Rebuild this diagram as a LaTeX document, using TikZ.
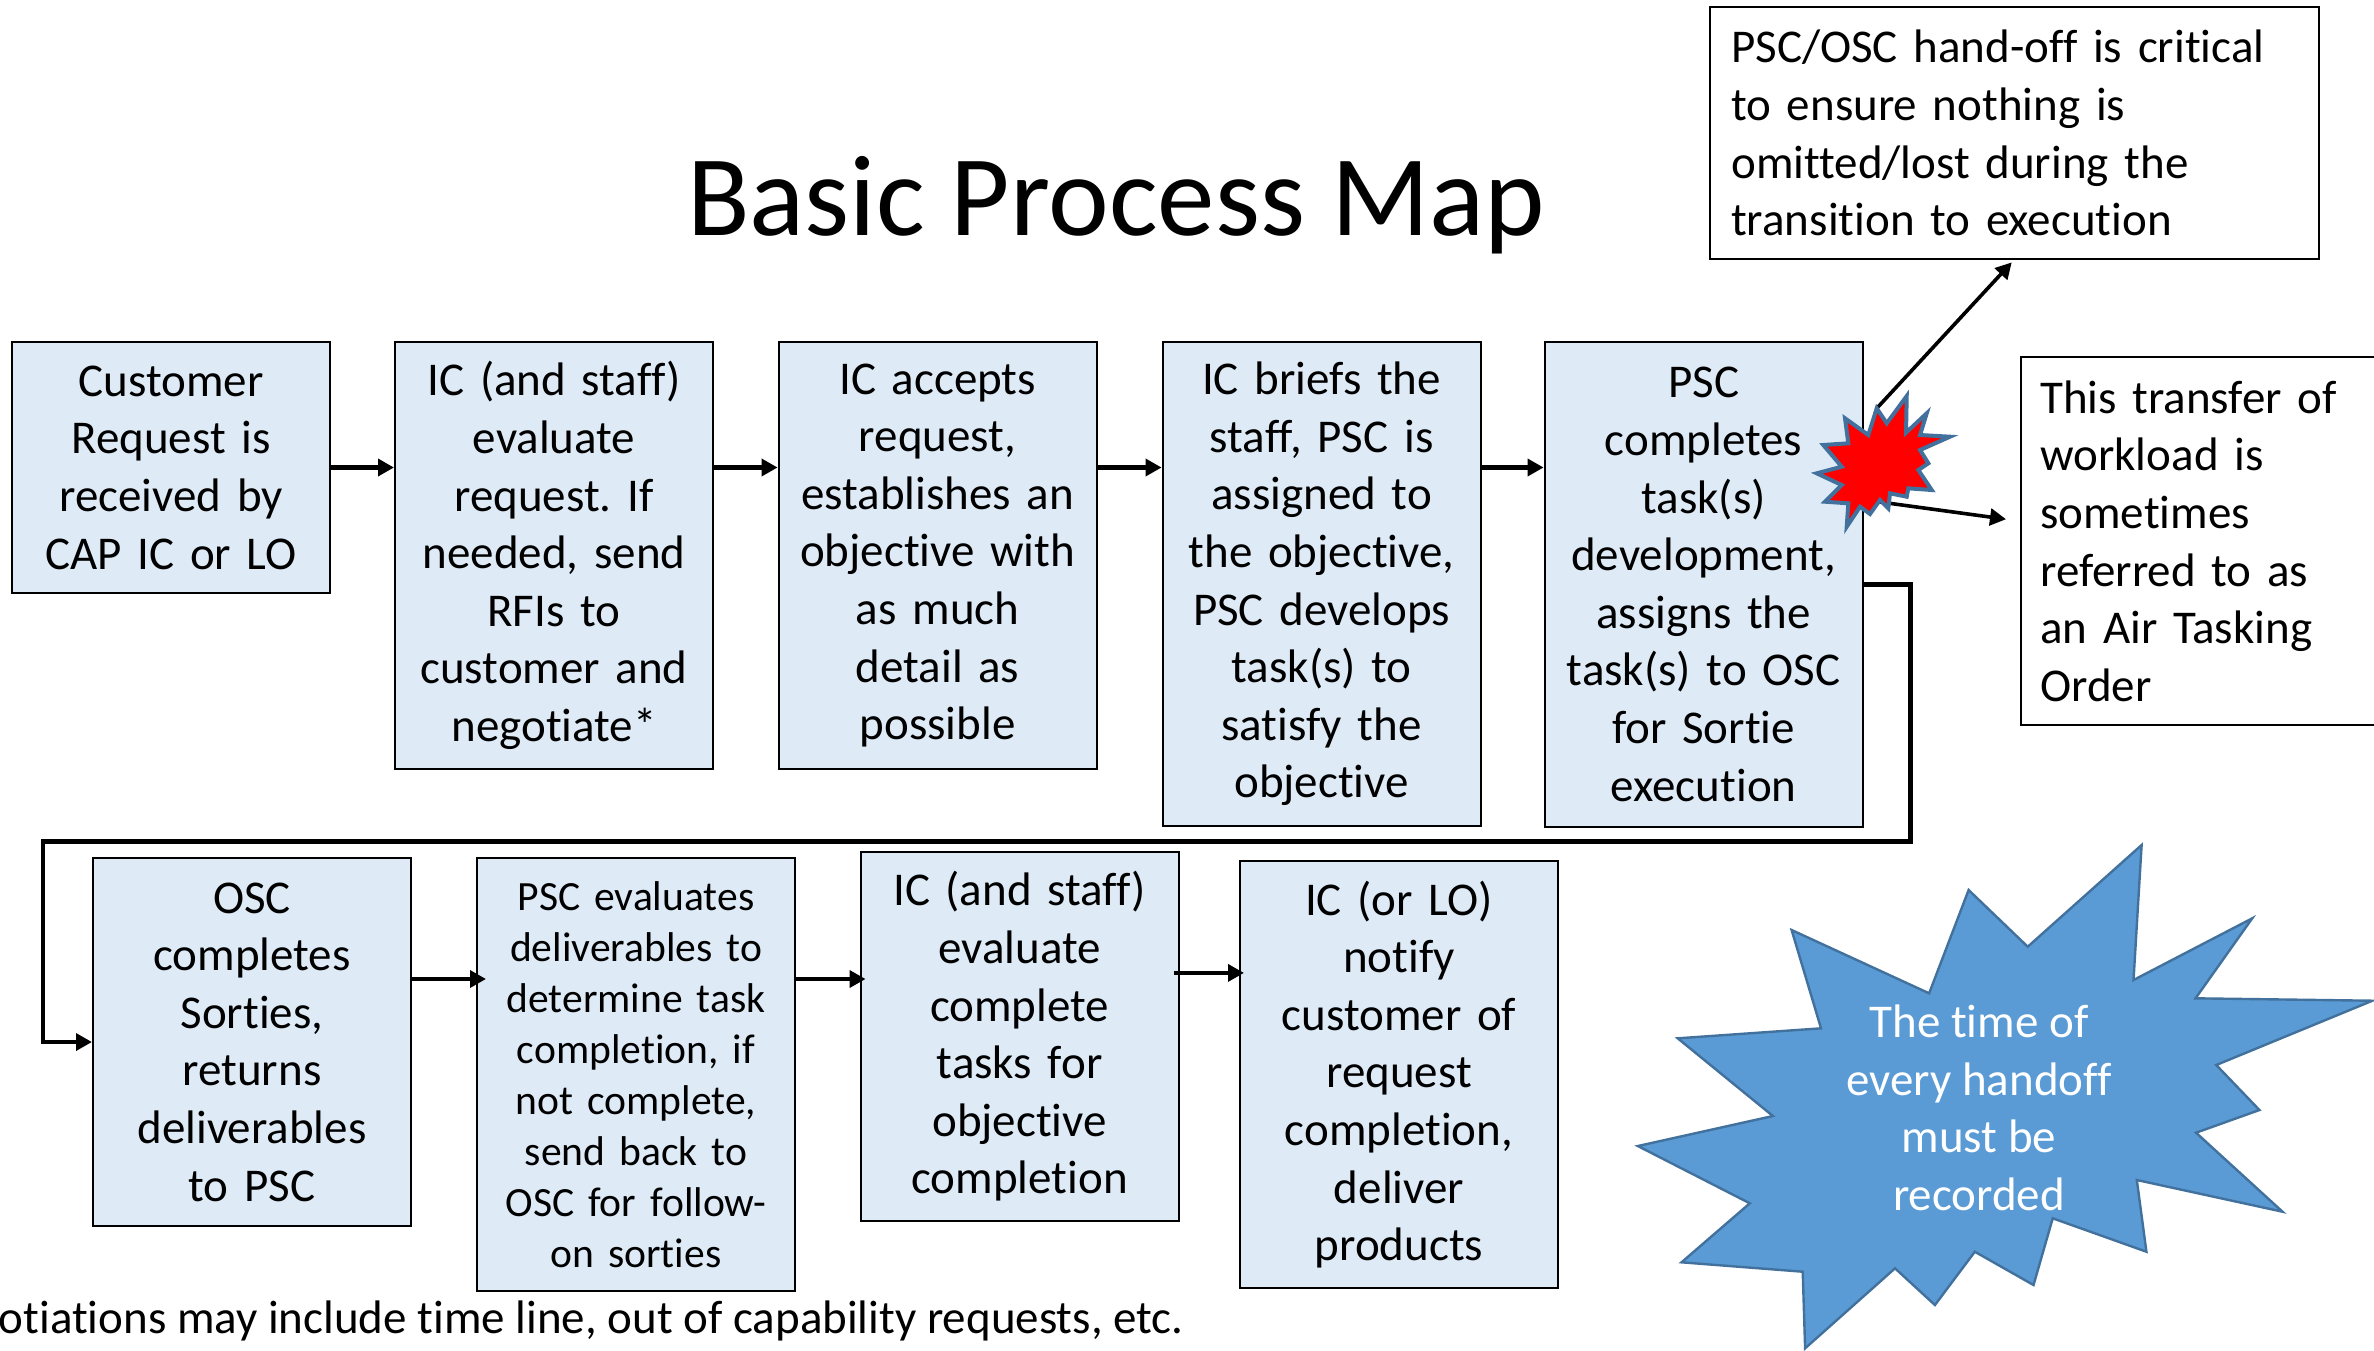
\documentclass[tikz,border=0pt]{standalone}
\usepackage{fontspec}
\setmainfont{Carlito}[Ligatures=CommonOff]
\usetikzlibrary{arrows.meta,positioning}
\definecolor{boxblue}{RGB}{222,235,247}
\definecolor{burstblue}{RGB}{91,155,213}
\definecolor{burstline}{RGB}{65,113,156}
\frenchspacing

\begin{document}
\begin{tikzpicture}[x=0.25pt,y=-0.25pt]
				\tikzset{block/.style={draw,fill=boxblue,line width=0.5pt,align=center,text width=75pt,inner xsep=0pt,minimum width=79.5pt,font=\fontsize{11.75}{14.4}\selectfont},
					note/.style={draw,line width=0.6pt,align=left,inner ysep=0pt,font=\fontsize{11.75}{14.4}\selectfont},
					flow/.style={draw,line width=1.1pt,-{Triangle[length=4pt,width=4.2pt]}}}
				\useasboundingbox (0,0) rectangle (2374,1350);
				\node [anchor=base,font=\fontsize{28.75}{34}\selectfont] (title) at (1116,235) {Basic Process Map};
				% first row
				\node [block, anchor=north west, minimum height=62.75pt] (request) at (11,341) {Customer\\Request is\\received by\\CAP IC or LO};
				\node [block, right=15.75pt of request.north east, anchor=north west, minimum height=106.75pt] (evaluate) {IC (and staff)\\evaluate\\request. If\\needed, send\\RFIs to\\customer and\\negotiate*};
				\node [block, right=15.9pt of evaluate.north east, anchor=north west, minimum height=106.75pt] (accept) {IC accepts\\request,\\establishes an\\objective with\\as much\\detail as\\possible};
				\node [block, right=16pt of accept.north east, anchor=north west, minimum height=121pt] (brief) {IC briefs the\\staff, PSC is\\assigned to\\the objective,\\PSC develops\\task(s) to\\satisfy the\\objective};
				\node [block, right=15.5pt of brief.north east, anchor=north west, minimum height=121.25pt] (tasks) {PSC\\completes\\task(s)\\development,\\assigns the\\task(s) to OSC\\for Sortie\\execution};
				% second row
				\node [block, anchor=north west, minimum height=92pt] (sorties) at (92,857) {OSC\\completes\\Sorties,\\returns\\deliverables\\to PSC};
				\node [block, right=16pt of sorties.north east, anchor=north west, minimum height=108.25pt, font=\fontsize{10.4}{12.75}\selectfont] (check) {PSC evaluates\\deliverables to\\determine task\\completion, if\\not complete,\\send back to\\OSC for follow-\\on sorties};
				\node [block, right=15.9pt of check.north east, anchor=north west, yshift=1.5pt, minimum height=92.25pt] (review) {IC (and staff)\\evaluate\\complete\\tasks for\\objective\\completion};
				\node [block, right=14.85pt of review.north east, anchor=north west, yshift=-2.25pt, minimum height=106.75pt] (deliver) {IC (or LO)\\notify\\customer of\\request\\completion,\\deliver\\products};
				% side notes
				\node [note, anchor=north west, text width=141.75pt, inner xsep=5.25pt, minimum height=63pt] (handoff) at (1709,6) {PSC/OSC hand-off is critical\\to ensure nothing is\\omitted/lost during the\\transition to execution};
				\node [note, anchor=north west, text width=90.5pt, inner xsep=4.75pt, minimum height=92pt] (ato) at (2020,356) {This transfer of\\workload is\\sometimes\\referred to as\\an Air Tasking\\Order};
				\node [anchor=base west, inner sep=0pt, font=\fontsize{11.75}{14.4}\selectfont] (footnote) at (-2,1333) {otiations may include time line, out of capability requests, etc.};
				% connectors
				\path (request.east) edge[flow] (request.east -| evaluate.west)
							(request.east -| evaluate.east) edge[flow] (request.east -| accept.west)
							(request.east -| accept.east) edge[flow] (request.east -| brief.west)
							(request.east -| brief.east) edge[flow] (request.east -| tasks.west);
				\path ([yshift=15.75pt]sorties.east) edge[flow] ([yshift=15.75pt,xshift=2.5pt]sorties.east -| check.west)
							([yshift=15.75pt]sorties.east -| check.east) edge[flow] ([yshift=15.75pt,xshift=1.5pt]sorties.east -| review.west)
							([yshift=15.9pt,xshift=-1.5pt]review.east) edge[flow] ([yshift=15.9pt,xshift=1.25pt]review.east -| deliver.west);
				\draw[flow] (tasks.east) -| ++(47,257) -| ([xshift=-12.25pt]sorties.west) -- (sorties.west);
				% bursts
				\coordinate (bursttop) at (1877,408);
				\coordinate (burstlow) at (1880,502);
				\draw[flow,line width=0.9pt] (bursttop) -- ([yshift=-0.5pt,xshift=-0.75pt]handoff.south);
				\draw[flow,line width=0.9pt] (burstlow) -- ([yshift=5.5pt,xshift=-3.5pt]ato.west);
				\draw[fill=red,draw=burstline,line width=1pt,line join=miter] (1876.7,408.3) -- (1886.7,423.3) -- (1906.7,396) -- (1906,432.7) -- (1926.7,413.3) -- (1920,435) -- (1950,436.7) -- (1920,450) -- (1928.3,463.3) -- (1918.3,470) -- (1931.7,490) -- (1908.3,488.3) -- (1906.7,496.7) -- (1890,493.3) -- (1888.3,508.3) -- (1880,500) -- (1870,514) -- (1860,506.7) -- (1846.7,526.7) -- (1848.3,503.3) -- (1825,501.7) -- (1841.7,485) -- (1816.7,473.3) -- (1841.7,466.7) -- (1823.3,445) -- (1848.3,443.3) -- (1845,418.3) -- (1868.3,435) -- cycle;
				\draw[fill=burstblue,draw=burstline,line width=0.6pt] (2141.6,845) -- (2133.5,980) -- (2252.2,918.3) -- (2195.5,998.3) -- (2372.4,1000.7) -- (2216.2,1065) -- (2259.4,1110) -- (2196,1132.7) -- (2282.5,1211.7) -- (2136.8,1180) -- (2146.4,1251.7) -- (2052.7,1218.3) -- (2033.5,1285) -- (1974.8,1251.7) -- (1934.9,1305) -- (1895,1268.3) -- (1805.1,1348.3) -- (1802.7,1271.7) -- (1681.5,1262.3) -- (1749.8,1203.3) -- (1637.8,1146) -- (1772.9,1116) -- (1677.7,1038.3) -- (1821,1028.3) -- (1791.6,930) -- (1929.1,993.3) -- (1968.6,890) -- (2027.7,946.7) -- cycle;
				\node [align=center, text=white, font=\fontsize{11.75}{14.4}\selectfont] (record) at (1979,1108) {The time of\\every handoff\\must be\\recorded};
			\end{tikzpicture}
\end{document}
